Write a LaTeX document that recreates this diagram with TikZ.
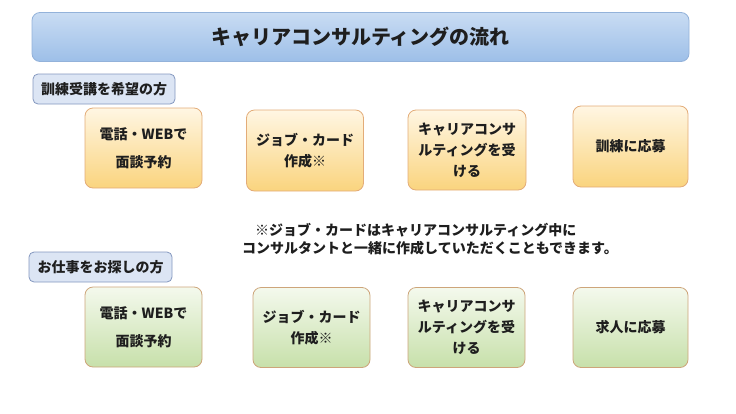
\documentclass[tikz,border=0pt]{standalone}
\usepackage{fontspec}
\setmainfont{Noto Sans CJK JP}
\definecolor{titletop}{HTML}{C9DCF3}
\definecolor{titlebot}{HTML}{9DBFE8}
\definecolor{titleborder}{HTML}{93B2DA}
\definecolor{labfill}{HTML}{DCE5F4}
\definecolor{labborder}{HTML}{8497BF}
\definecolor{otop}{HTML}{FFF6E3}
\definecolor{obot}{HTML}{FAD47E}
\definecolor{oborder}{HTML}{E3AC78}
\definecolor{gtop}{HTML}{F4F9ED}
\definecolor{gbot}{HTML}{C7E0AA}
\definecolor{gborder}{HTML}{CDA57A}
\definecolor{arrowc}{HTML}{F2BAAA}
\definecolor{txt}{HTML}{1E1E1E}
\begin{document}
\begin{tikzpicture}[x=1pt,y=-1pt,
  titlebox/.style={draw=titleborder, line width=0.8pt, rounded corners=8pt,
    top color=titletop, bottom color=titlebot, minimum width=657pt, minimum height=49pt,
    inner sep=0pt, text=txt, font=\fontsize{20}{24}\selectfont\bfseries},
  labbox/.style={draw=labborder, fill=labfill, line width=0.8pt, rounded corners=5pt,
    minimum height=30pt, inner sep=0pt, text=txt, font=\fontsize{14}{17}\selectfont\bfseries},
  flowbox/.style={line width=0.8pt, rounded corners=8pt, minimum width=117pt, minimum height=80pt,
    inner sep=0pt, align=center, text=txt, font=\fontsize{14}{21}\selectfont\bfseries},
  obox/.style={flowbox, draw=oborder, top color=otop, bottom color=obot},
  gbox/.style={flowbox, draw=gborder, top color=gtop, bottom color=gbot},
  blockarrow/.style={fill=arrowc, draw=none},
  notetext/.style={align=left, anchor=west, text=txt, inner sep=0pt, font=\fontsize{14}{18}\selectfont\bfseries}
]
\useasboundingbox (0,0) rectangle (736,413);

\node[titlebox] (title) at (360.5,37) {キャリアコンサルティングの流れ};

\node[labbox, minimum width=142pt] (lab1) at (104,89) {訓練受講を希望の方};
\node[labbox, minimum width=143pt] (lab2) at (100.5,267) {お仕事をお探しの方};

% row 1
\node[obox] (b1) at (143.5,148) {電話・WEBで\\[7pt]面談予約};
\node[obox, minimum height=81pt] (b2) at (305,150.5) {ジョブ・カード\\作成※};
\node[obox, minimum width=118pt] (b3) at (467,150) {キャリアコンサ\\ルティングを受\\ける};
\node[obox, minimum width=115pt, minimum height=81pt] (b4) at (630.5,146.5) {訓練に応募};

% row 2
\node[gbox] (c1) at (143.5,327) {電話・WEBで\\[7pt]面談予約};
\node[gbox] (c2) at (311.5,327.5) {ジョブ・カード\\作成※};
\node[gbox] (c3) at (466.5,327.5) {キャリアコンサ\\ルティングを受\\ける};
\node[gbox, minimum width=115pt] (c4) at (630.5,327.5) {求人に応募};

% block arrows
\foreach \n/\p in {a1/{(224.5,150)}, a2/{(386,150)}, a3/{(549.5,149)},
                  d1/{(227,331)}, d2/{(389.5,332)}, d3/{(550,331)}}{
  \coordinate (\n) at \p;
  \fill[blockarrow, shift={(\n)}] (-12,-7) -- (0,-7) -- (0,-13.5) -- (12,0) -- (0,13.5) -- (0,7) -- (-12,7) -- cycle;
}

\node[notetext] (note) at (242,239) {\hspace*{13pt}※ジョブ・カードはキャリアコンサルティング中に\\コンサルタントと一緒に作成していただくこともできます。};
\end{tikzpicture}
\end{document}
